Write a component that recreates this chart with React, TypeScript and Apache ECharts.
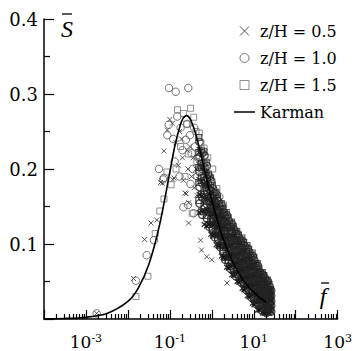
import React, { useEffect, useRef } from "react";
import * as echarts from "echarts";

// ---- axis ticks ----
const X_MIN_EXP = -4;
const X_MAX_EXP = 3;
const X_LABEL_EXPONENTS = [-3, -1, 1, 3];
const Y_MAX = 0.4;
const Y_STEP = 0.1;

const LEGEND_NAMES = ["z/H = 0.5", "z/H = 1.0", "z/H = 1.5", "Karman"];

// ---- Karman spectrum curve (f, S) ----
const KARMAN_F = [1e-4, 3.16e-4, 1e-3, 3.16e-3, 0.01, 0.0178, 0.0316, 0.0562, 0.1, 0.133, 0.178, 0.205, 0.237, 0.248, 0.274, 0.316, 0.422, 0.562, 0.75, 1, 1.78, 3.16, 5.62, 10, 17.8, 20];
const KARMAN_S = [0.0002, 0.0007, 0.0024, 0.0074, 0.0235, 0.0416, 0.0729, 0.1243, 0.196, 0.232, 0.259, 0.2675, 0.2711, 0.2714, 0.2702, 0.2651, 0.245, 0.217, 0.187, 0.158, 0.11, 0.0757, 0.0517, 0.0353, 0.024, 0.0223];

// ---- z/H = 0.5 (crosses): scattered points, then the dense band ----
const Z05_SPARSE: [number, number][] = [
  [0.0018, 0.0075], [0.0136, 0.054], [0.025, 0.106], [0.0355, 0.128], [0.049, 0.132], [0.06, 0.182], [0.066, 0.181], [0.072, 0.224], [0.087, 0.252], [0.1, 0.266], [0.115, 0.261], [0.118, 0.186], [0.126, 0.188], [0.14, 0.235], [0.16, 0.205], [0.17, 0.25], [0.19, 0.24], [0.2, 0.215], [0.21, 0.185], [0.23, 0.168], [0.245, 0.167], [0.26, 0.225], [0.27, 0.2], [0.28, 0.155], [0.28, 0.128], [0.3, 0.23], [0.33, 0.19], [0.36, 0.215], [0.38, 0.175], [0.42, 0.2], [0.44, 0.165], [0.54, 0.105], [0.57, 0.092], [0.76, 0.083], [1.0, 0.079], [2.3, 0.048],
];
const Z05_BAND: [number, number][] = [
  [0.5, 0.142], [0.5, 0.166], [0.5, 0.186], [0.5, 0.206], [0.5, 0.226],
  [0.58, 0.143], [0.58, 0.164], [0.58, 0.183], [0.58, 0.202], [0.58, 0.219],
  [0.66, 0.126], [0.66, 0.144], [0.66, 0.162], [0.66, 0.18], [0.66, 0.198],
  [0.75, 0.124], [0.75, 0.145], [0.75, 0.162], [0.75, 0.179], [0.75, 0.196],
  [0.85, 0.126], [0.85, 0.143], [0.85, 0.159], [0.85, 0.174], [0.85, 0.188],
  [0.95, 0.113], [0.95, 0.127], [0.95, 0.141], [0.95, 0.155], [0.95, 0.169],
  [1.05, 0.111], [1.05, 0.127], [1.05, 0.14], [1.05, 0.154], [1.05, 0.167],
  [1.15, 0.112], [1.15, 0.126], [1.15, 0.139], [1.15, 0.152], [1.15, 0.164],
  [1.27, 0.099], [1.27, 0.112], [1.27, 0.125], [1.27, 0.138], [1.27, 0.151],
  [1.4, 0.098], [1.4, 0.113], [1.4, 0.126], [1.4, 0.138], [1.4, 0.151],
  [1.55, 0.098], [1.55, 0.112], [1.55, 0.124], [1.55, 0.137], [1.55, 0.148],
  [1.7, 0.084], [1.7, 0.097], [1.7, 0.11], [1.7, 0.123], [1.7, 0.136],
  [1.87, 0.082], [1.87, 0.097], [1.87, 0.11], [1.87, 0.123], [1.87, 0.136],
  [2.05, 0.082], [2.05, 0.097], [2.05, 0.11], [2.05, 0.124], [2.05, 0.136],
  [2.25, 0.069], [2.25, 0.082], [2.25, 0.096], [2.25, 0.109], [2.25, 0.123],
  [2.5, 0.068], [2.5, 0.084], [2.5, 0.097], [2.5, 0.111], [2.5, 0.124],
  [2.75, 0.07], [2.75, 0.084], [2.75, 0.097], [2.75, 0.11], [2.75, 0.122],
  [3.0, 0.059], [3.0, 0.072], [3.0, 0.085], [3.0, 0.098], [3.0, 0.111],
  [3.3, 0.058], [3.3, 0.073], [3.3, 0.086], [3.3, 0.099], [3.3, 0.112],
  [3.65, 0.06], [3.65, 0.074], [3.65, 0.087], [3.65, 0.1], [3.65, 0.112],
  [4.0, 0.05], [4.0, 0.062], [4.0, 0.075], [4.0, 0.087], [4.0, 0.1],
  [4.4, 0.049], [4.4, 0.064], [4.4, 0.077], [4.4, 0.089], [4.4, 0.102],
  [4.85, 0.051], [4.85, 0.065], [4.85, 0.077], [4.85, 0.09], [4.85, 0.101],
  [5.3, 0.041], [5.3, 0.053], [5.3, 0.066], [5.3, 0.078], [5.3, 0.091],
  [5.85, 0.039], [5.85, 0.054], [5.85, 0.067], [5.85, 0.079], [5.85, 0.092],
  [6.4, 0.041], [6.4, 0.055], [6.4, 0.067], [6.4, 0.08], [6.4, 0.091],
  [7.0, 0.031], [7.0, 0.043], [7.0, 0.056], [7.0, 0.068], [7.0, 0.081],
  [7.7, 0.03], [7.7, 0.045], [7.7, 0.058], [7.7, 0.07], [7.7, 0.083],
  [8.5, 0.031], [8.5, 0.045], [8.5, 0.057], [8.5, 0.07], [8.5, 0.081],
  [9.3, 0.021], [9.3, 0.033], [9.3, 0.046], [9.3, 0.058], [9.3, 0.071],
  [10.2, 0.019], [10.2, 0.034], [10.2, 0.047], [10.2, 0.059], [10.2, 0.072],
  [11.2, 0.022], [11.2, 0.035], [11.2, 0.047], [11.2, 0.059], [11.2, 0.07],
  [12.3, 0.012], [12.3, 0.024], [12.3, 0.035], [12.3, 0.047], [12.3, 0.058],
  [13.5, 0.012], [13.5, 0.025], [13.5, 0.036], [13.5, 0.047], [13.5, 0.058],
  [14.8, 0.014], [14.8, 0.026], [14.8, 0.037], [14.8, 0.048], [14.8, 0.058],
  [16.2, 0.008], [16.2, 0.016], [16.2, 0.027], [16.2, 0.037], [16.2, 0.048],
  [17.8, 0.008], [17.8, 0.018], [17.8, 0.029], [17.8, 0.039], [17.8, 0.05],
  [19.5, 0.009], [19.5, 0.02], [19.5, 0.03], [19.5, 0.04], [19.5, 0.049],
  [21.4, 0.008], [21.4, 0.013], [21.4, 0.022], [21.4, 0.031], [21.4, 0.04],
  [23.5, 0.008], [23.5, 0.017], [23.5, 0.025], [23.5, 0.032], [23.5, 0.04],
  [25.5, 0.011], [25.5, 0.018], [25.5, 0.025], [25.5, 0.031], [25.5, 0.037],
];

// ---- z/H = 1.0 (circles) ----
const Z10_SPARSE: [number, number][] = [
  [0.0018, 0.0075], [0.0155, 0.051], [0.028, 0.085], [0.0417, 0.105], [0.055, 0.2], [0.069, 0.186], [0.072, 0.188], [0.087, 0.245], [0.094, 0.259], [0.095, 0.308], [0.12, 0.24], [0.13, 0.21], [0.138, 0.303], [0.15, 0.27], [0.17, 0.19], [0.18, 0.255], [0.2, 0.225], [0.21, 0.149], [0.24, 0.239], [0.26, 0.26], [0.27, 0.152], [0.275, 0.308], [0.3, 0.245], [0.31, 0.18], [0.33, 0.221], [0.35, 0.2], [0.37, 0.141], [0.38, 0.255], [0.4, 0.23], [0.45, 0.19], [0.47, 0.215], [1.51, 0.163], [1.9, 0.141], [8.1, 0.072], [16.6, 0.048],
];
const Z10_BAND: [number, number][] = [
  [0.51, 0.154], [0.51, 0.176], [0.51, 0.196], [0.51, 0.216], [0.51, 0.236],
  [0.59, 0.139], [0.59, 0.162], [0.59, 0.181], [0.59, 0.2], [0.59, 0.221],
  [0.67, 0.148], [0.67, 0.166], [0.67, 0.184], [0.67, 0.202], [0.67, 0.218],
  [0.765, 0.134], [0.765, 0.153], [0.765, 0.17], [0.765, 0.187], [0.765, 0.204],
  [0.87, 0.123], [0.87, 0.142], [0.87, 0.157], [0.87, 0.173], [0.87, 0.19],
  [0.97, 0.129], [0.97, 0.143], [0.97, 0.157], [0.97, 0.171], [0.97, 0.184],
  [1.07, 0.119], [1.07, 0.134], [1.07, 0.147], [1.07, 0.161], [1.07, 0.174],
  [1.17, 0.109], [1.17, 0.125], [1.17, 0.138], [1.17, 0.151], [1.17, 0.165],
  [1.3, 0.115], [1.3, 0.128], [1.3, 0.141], [1.3, 0.154], [1.3, 0.166],
  [1.43, 0.106], [1.43, 0.119], [1.43, 0.132], [1.43, 0.144], [1.43, 0.157],
  [1.58, 0.096], [1.58, 0.111], [1.58, 0.123], [1.58, 0.136], [1.58, 0.149],
  [1.73, 0.1], [1.73, 0.113], [1.73, 0.126], [1.73, 0.139], [1.73, 0.151],
  [1.91, 0.09], [1.91, 0.104], [1.91, 0.117], [1.91, 0.13], [1.91, 0.143],
  [2.09, 0.079], [2.09, 0.096], [2.09, 0.109], [2.09, 0.123], [2.09, 0.137],
  [2.3, 0.085], [2.3, 0.099], [2.3, 0.112], [2.3, 0.126], [2.3, 0.138],
  [2.55, 0.076], [2.55, 0.091], [2.55, 0.104], [2.55, 0.118], [2.55, 0.131],
  [2.8, 0.067], [2.8, 0.083], [2.8, 0.096], [2.8, 0.109], [2.8, 0.123],
  [3.06, 0.075], [3.06, 0.088], [3.06, 0.101], [3.06, 0.114], [3.06, 0.126],
  [3.37, 0.066], [3.37, 0.08], [3.37, 0.093], [3.37, 0.106], [3.37, 0.119],
  [3.72, 0.057], [3.72, 0.073], [3.72, 0.086], [3.72, 0.099], [3.72, 0.113],
  [4.08, 0.065], [4.08, 0.077], [4.08, 0.09], [4.08, 0.102], [4.08, 0.113],
  [4.49, 0.057], [4.49, 0.07], [4.49, 0.083], [4.49, 0.095], [4.49, 0.108],
  [4.95, 0.049], [4.95, 0.064], [4.95, 0.076], [4.95, 0.089], [4.95, 0.102],
  [5.41, 0.056], [5.41, 0.068], [5.41, 0.081], [5.41, 0.093], [5.41, 0.104],
  [5.97, 0.047], [5.97, 0.06], [5.97, 0.073], [5.97, 0.085], [5.97, 0.098],
  [6.53, 0.039], [6.53, 0.054], [6.53, 0.066], [6.53, 0.079], [6.53, 0.092],
  [7.14, 0.046], [7.14, 0.058], [7.14, 0.071], [7.14, 0.083], [7.14, 0.094],
  [7.85, 0.038], [7.85, 0.051], [7.85, 0.064], [7.85, 0.076], [7.85, 0.089],
  [8.67, 0.029], [8.67, 0.044], [8.67, 0.056], [8.67, 0.069], [8.67, 0.082],
  [9.49, 0.036], [9.49, 0.048], [9.49, 0.061], [9.49, 0.073], [9.49, 0.084],
  [10.4, 0.027], [10.4, 0.04], [10.4, 0.053], [10.4, 0.065], [10.4, 0.078],
  [11.4, 0.02], [11.4, 0.034], [11.4, 0.046], [11.4, 0.058], [11.4, 0.071],
  [12.5, 0.026], [12.5, 0.037], [12.5, 0.049], [12.5, 0.06], [12.5, 0.071],
  [13.8, 0.018], [13.8, 0.03], [13.8, 0.041], [13.8, 0.052], [13.8, 0.063],
  [15.1, 0.012], [15.1, 0.025], [15.1, 0.036], [15.1, 0.047], [15.1, 0.059],
  [16.5, 0.018], [16.5, 0.029], [16.5, 0.039], [16.5, 0.05], [16.5, 0.059],
  [18.2, 0.012], [18.2, 0.024], [18.2, 0.034], [18.2, 0.045], [18.2, 0.055],
  [19.9, 0.008], [19.9, 0.019], [19.9, 0.029], [19.9, 0.039], [19.9, 0.05],
  [21.8, 0.014], [21.8, 0.023], [21.8, 0.032], [21.8, 0.041], [21.8, 0.05],
  [24, 0.013], [24, 0.021], [24, 0.028], [24, 0.036], [24, 0.043],
  [26, 0.01], [26, 0.018], [26, 0.024], [26, 0.031], [26, 0.038],
];

// ---- z/H = 1.5 (squares) ----
const Z15_SPARSE: [number, number][] = [
  [0.0155, 0.03], [0.03, 0.057], [0.0447, 0.114], [0.0575, 0.144], [0.0724, 0.16], [0.085, 0.196], [0.107, 0.179], [0.14, 0.2], [0.152, 0.279], [0.18, 0.23], [0.21, 0.274], [0.23, 0.19], [0.25, 0.26], [0.28, 0.22], [0.31, 0.281], [0.34, 0.141], [0.37, 0.269], [0.42, 0.25], [0.44, 0.21], [0.5, 0.248], [0.55, 0.235], [0.6, 0.2], [0.65, 0.228], [0.8, 0.215], [1.05, 0.2], [1.32, 0.174], [1.9, 0.152], [2.5, 0.119], [3.9, 0.094],
];
const Z15_BAND: [number, number][] = [
  [0.49, 0.158], [0.49, 0.182], [0.49, 0.202], [0.49, 0.222], [0.49, 0.242],
  [0.57, 0.143], [0.57, 0.166], [0.57, 0.189], [0.57, 0.208], [0.57, 0.225],
  [0.65, 0.151], [0.65, 0.171], [0.65, 0.189], [0.65, 0.207], [0.65, 0.223],
  [0.735, 0.138], [0.735, 0.158], [0.735, 0.175], [0.735, 0.192], [0.735, 0.209],
  [0.83, 0.126], [0.83, 0.145], [0.83, 0.163], [0.83, 0.179], [0.83, 0.193],
  [0.93, 0.132], [0.93, 0.148], [0.93, 0.162], [0.93, 0.176], [0.93, 0.188],
  [1.03, 0.121], [1.03, 0.138], [1.03, 0.151], [1.03, 0.165], [1.03, 0.178],
  [1.13, 0.112], [1.13, 0.128], [1.13, 0.143], [1.13, 0.156], [1.13, 0.168],
  [1.245, 0.117], [1.245, 0.132], [1.245, 0.145], [1.245, 0.158], [1.245, 0.169],
  [1.37, 0.108], [1.37, 0.123], [1.37, 0.136], [1.37, 0.148], [1.37, 0.161],
  [1.52, 0.098], [1.52, 0.113], [1.52, 0.128], [1.52, 0.141], [1.52, 0.152],
  [1.67, 0.102], [1.67, 0.117], [1.67, 0.13], [1.67, 0.143], [1.67, 0.154],
  [1.83, 0.092], [1.83, 0.108], [1.83, 0.121], [1.83, 0.134], [1.83, 0.147],
  [2.01, 0.082], [2.01, 0.098], [2.01, 0.114], [2.01, 0.128], [2.01, 0.14],
  [2.2, 0.088], [2.2, 0.103], [2.2, 0.116], [2.2, 0.13], [2.2, 0.142],
  [2.45, 0.078], [2.45, 0.095], [2.45, 0.108], [2.45, 0.122], [2.45, 0.135],
  [2.7, 0.07], [2.7, 0.086], [2.7, 0.101], [2.7, 0.114], [2.7, 0.126],
  [2.94, 0.077], [2.94, 0.092], [2.94, 0.105], [2.94, 0.118], [2.94, 0.129],
  [3.23, 0.068], [3.23, 0.084], [3.23, 0.097], [3.23, 0.11], [3.23, 0.123],
  [3.58, 0.06], [3.58, 0.076], [3.58, 0.091], [3.58, 0.104], [3.58, 0.116],
  [3.92, 0.067], [3.92, 0.081], [3.92, 0.093], [3.92, 0.106], [3.92, 0.117],
  [4.31, 0.059], [4.31, 0.074], [4.31, 0.087], [4.31, 0.099], [4.31, 0.112],
  [4.75, 0.051], [4.75, 0.066], [4.75, 0.081], [4.75, 0.094], [4.75, 0.105],
  [5.19, 0.058], [5.19, 0.072], [5.19, 0.084], [5.19, 0.097], [5.19, 0.108],
  [5.73, 0.049], [5.73, 0.064], [5.73, 0.077], [5.73, 0.089], [5.73, 0.102],
  [6.27, 0.041], [6.27, 0.056], [6.27, 0.071], [6.27, 0.084], [6.27, 0.095],
  [6.86, 0.048], [6.86, 0.062], [6.86, 0.074], [6.86, 0.087], [6.86, 0.098],
  [7.55, 0.04], [7.55, 0.055], [7.55, 0.068], [7.55, 0.08], [7.55, 0.093],
  [8.33, 0.031], [8.33, 0.046], [8.33, 0.061], [8.33, 0.074], [8.33, 0.085],
  [9.11, 0.038], [9.11, 0.052], [9.11, 0.064], [9.11, 0.077], [9.11, 0.088],
  [10, 0.029], [10, 0.044], [10, 0.057], [10, 0.069], [10, 0.082],
  [11, 0.022], [11, 0.036], [11, 0.051], [11, 0.063], [11, 0.074],
  [12.05, 0.028], [12.05, 0.041], [12.05, 0.052], [12.05, 0.064], [12.05, 0.074],
  [13.2, 0.02], [13.2, 0.034], [13.2, 0.045], [13.2, 0.056], [13.2, 0.067],
  [14.5, 0.014], [14.5, 0.027], [14.5, 0.04], [14.5, 0.051], [14.5, 0.061],
  [15.9, 0.02], [15.9, 0.032], [15.9, 0.042], [15.9, 0.053], [15.9, 0.062],
  [17.4, 0.014], [17.4, 0.027], [17.4, 0.037], [17.4, 0.048], [17.4, 0.058],
  [19.1, 0.009], [19.1, 0.021], [19.1, 0.033], [19.1, 0.043], [19.1, 0.052],
  [21, 0.016], [21, 0.026], [21, 0.035], [21, 0.044], [21, 0.052],
  [23, 0.014], [23, 0.023], [23, 0.031], [23, 0.038], [23, 0.046],
  [25, 0.011], [25, 0.019], [25, 0.027], [25, 0.033], [25, 0.039],
];

const SERIF = "DejaVu Serif";
const TITLE_FONT = "italic 24px 'Liberation Serif'";

function minorTickValues(): number[] {
  const out: number[] = [];
  for (let e = X_MIN_EXP; e < X_MAX_EXP; e++) {
    for (let k = 2; k <= 9; k++) out.push(e + Math.log10(k));
  }
  return out;
}

// sparse points keep the series colour; points of the dense band are drawn darker,
// as their heavy overlap makes them in the original
function buildData(sparse: [number, number][], band: [number, number][], bandColor: string) {
  return [
    ...sparse.map(([f, s]) => [Math.log10(f), s]),
    ...band.map(([f, s]) => ({
      value: [Math.log10(f), s],
      itemStyle: { borderColor: bandColor, borderWidth: 1.2 },
    })),
  ];
}

export default function App() {
  const ref = useRef<HTMLDivElement>(null);

  useEffect(() => {
    if (!ref.current) return;
    const chart = echarts.init(ref.current, null, { renderer: "svg" });
    const axisColor = "#000";
    const karman = KARMAN_F.map((f, i) => [Math.log10(f), KARMAN_S[i]]);

    chart.setOption({
      animation: false,
      backgroundColor: "#fff",
      grid: { left: 44, top: 19, width: 296, height: 300 },
      legend: {
        data: [
          LEGEND_NAMES[0],
          LEGEND_NAMES[1],
          { name: LEGEND_NAMES[2], icon: "path://M0,0H10V10H0Z" },
          { name: LEGEND_NAMES[3], icon: "path://M0,0H21V1.5H0Z" },
        ],
        orient: "vertical",
        left: 229,
        top: 18,
        itemWidth: 21,
        itemHeight: 9,
        itemGap: 11,
        symbolKeepAspect: true,
        textStyle: { fontFamily: SERIF, fontSize: 16, color: "#000" },
        itemStyle: { borderWidth: 1 },
      },
      xAxis: [
        {
          type: "value",
          min: X_MIN_EXP,
          max: X_MAX_EXP,
          interval: 1,
          position: "bottom",
          axisLine: { show: true, onZero: false, lineStyle: { color: axisColor, width: 1.5 } },
          axisTick: { show: true, inside: true, length: 9, lineStyle: { color: axisColor, width: 1.2 } },
          splitLine: { show: false },
          axisLabel: {
            color: "#000",
            fontFamily: SERIF,
            fontSize: 17,
            margin: 14,
            formatter: (v: number) =>
              X_LABEL_EXPONENTS.indexOf(Math.round(v)) >= 0 ? `10{sup|${Math.round(v)}}` : "",
            rich: {
              sup: { fontFamily: SERIF, fontSize: 11, color: "#000", verticalAlign: "top" },
            },
          },
        },
        {
          type: "value",
          min: X_MIN_EXP,
          max: X_MAX_EXP,
          position: "bottom",
          axisLine: { show: false, onZero: false },
          axisLabel: { show: false },
          splitLine: { show: false },
          axisTick: {
            show: true,
            inside: true,
            length: 5,
            customValues: minorTickValues(),
            lineStyle: { color: axisColor, width: 1.2 },
          },
        },
      ],
      yAxis: {
        type: "value",
        min: 0,
        max: Y_MAX,
        interval: Y_STEP,
        axisLine: { show: true, onZero: false, lineStyle: { color: axisColor, width: 1.5 } },
        axisTick: { show: true, inside: true, length: 10, lineStyle: { color: axisColor, width: 1.2 } },
        minorTick: { show: true, splitNumber: 2, length: 6, lineStyle: { color: axisColor, width: 1.2 } },
        splitLine: { show: false },
        axisLabel: {
          color: "#000",
          fontFamily: SERIF,
          fontSize: 18,
          margin: 6,
          formatter: (v: number) => (v === 0 ? "" : v.toFixed(1)),
        },
      },
      series: [
        {
          name: LEGEND_NAMES[0],
          type: "scatter",
          xAxisIndex: 0,
          symbol: "path://M0,0L10,10M0,10L10,0",
          symbolSize: 5,
          itemStyle: { color: "rgba(0,0,0,0)", borderColor: "#2e2e2e", borderWidth: 1 },
          data: buildData(Z05_SPARSE, Z05_BAND, "#000"),
        },
        {
          name: LEGEND_NAMES[1],
          type: "scatter",
          xAxisIndex: 0,
          symbol: "circle",
          symbolSize: 7.5,
          itemStyle: { color: "rgba(0,0,0,0)", borderColor: "#505050", borderWidth: 1 },
          data: buildData(Z10_SPARSE, Z10_BAND, "#141414"),
        },
        {
          name: LEGEND_NAMES[2],
          type: "scatter",
          xAxisIndex: 0,
          symbol: "rect",
          symbolSize: 6,
          itemStyle: { color: "rgba(0,0,0,0)", borderColor: "#747474", borderWidth: 1 },
          data: buildData(Z15_SPARSE, Z15_BAND, "#262626"),
        },
        {
          name: LEGEND_NAMES[3],
          type: "line",
          xAxisIndex: 0,
          smooth: 0.3,
          symbol: "none",
          z: 5,
          lineStyle: { color: "#000", width: 1.6 },
          itemStyle: { color: "#000" },
          data: karman,
        },
      ],
      graphic: [
        {
          type: "text",
          x: 67,
          y: 29,
          style: { text: "S", font: TITLE_FONT, fill: "#000", align: "center", verticalAlign: "middle" },
        },
        { type: "line", shape: { x1: 62, y1: 14, x2: 72, y2: 14 }, style: { stroke: "#000", lineWidth: 1.3 } },
        {
          type: "text",
          x: 323,
          y: 296,
          style: { text: "f", font: TITLE_FONT, fill: "#000", align: "center", verticalAlign: "middle" },
        },
        { type: "line", shape: { x1: 321, y1: 283, x2: 329, y2: 283 }, style: { stroke: "#000", lineWidth: 1.3 } },
      ],
    });

    return () => chart.dispose();
  }, []);

  return (
    <div
      ref={ref}
      style={{ position: "absolute", left: 0, top: 0, width: 355, height: 351, background: "#fff" }}
    />
  );
}
